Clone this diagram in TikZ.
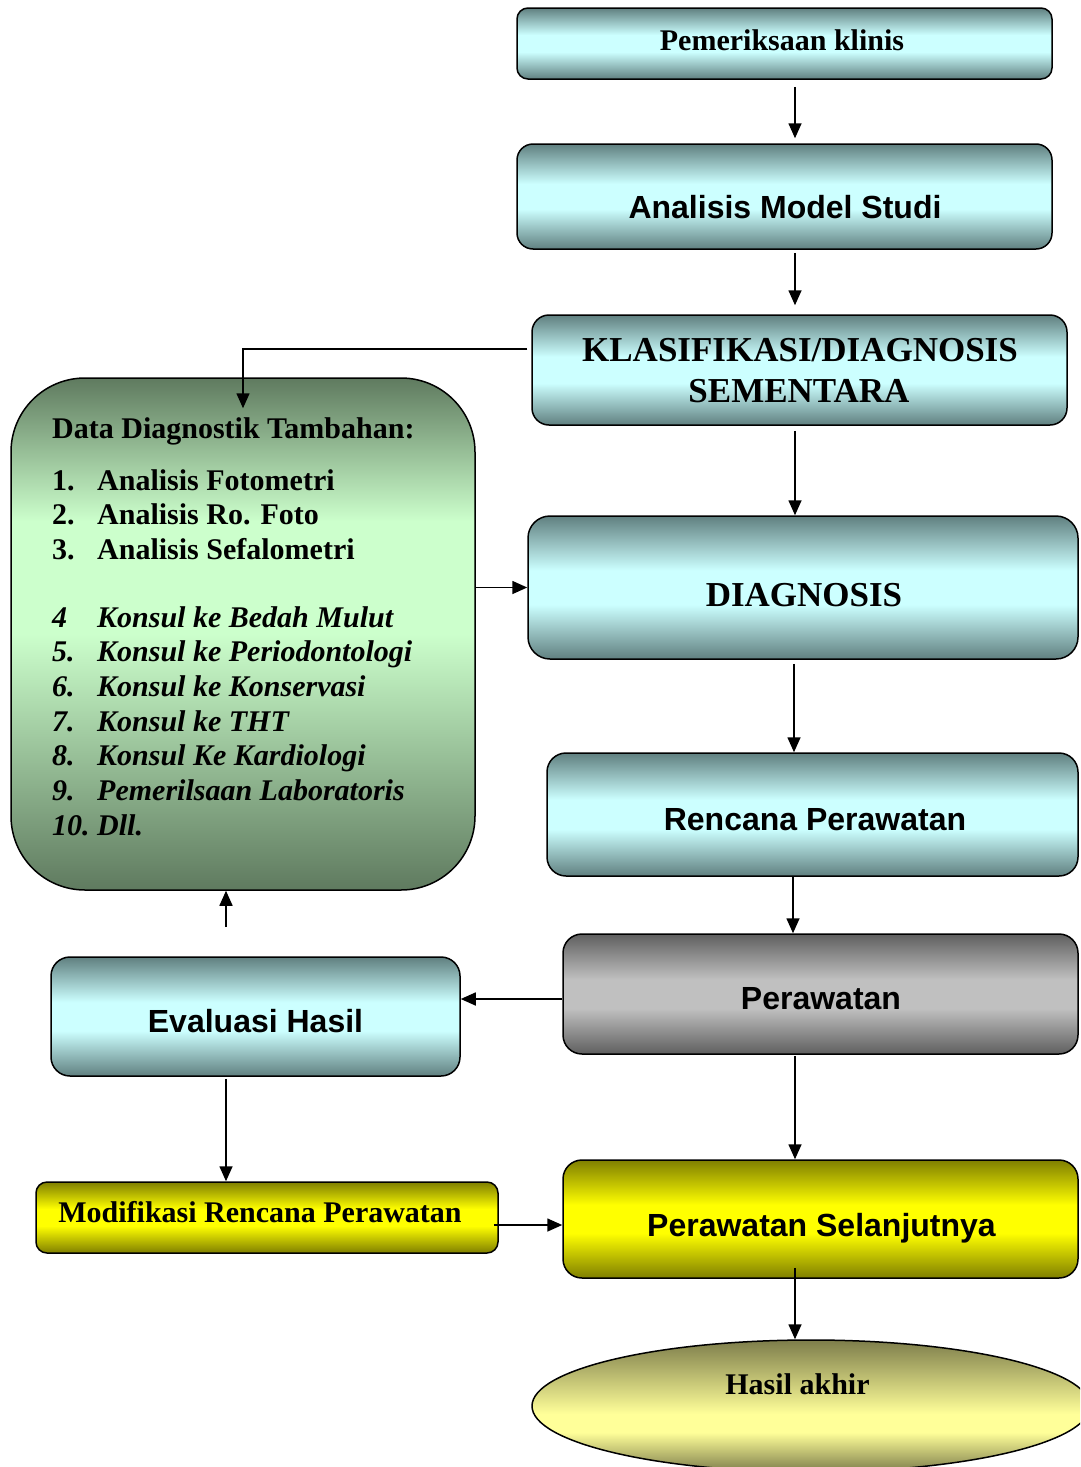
\documentclass[tikz,border=0pt]{standalone}
\usepackage{fontspec}
\setmainfont{Liberation Serif}
\setsansfont{Liberation Sans}
\usetikzlibrary{arrows.meta,calc,shapes.geometric}
\definecolor{cyD}{RGB}{96,128,128}
\definecolor{cyL}{RGB}{204,255,255}
\definecolor{gyD}{RGB}{95,95,95}
\definecolor{gyL}{RGB}{192,192,192}
\definecolor{ylD}{RGB}{127,127,0}
\definecolor{ylL}{RGB}{255,255,0}
\definecolor{grD}{RGB}{95,122,95}
\definecolor{grL}{RGB}{204,255,204}
\definecolor{elD}{RGB}{125,125,75}
\definecolor{elL}{RGB}{255,255,153}
\pgfdeclareverticalshading{cyband}{100bp}{color(0bp)=(cyD); color(25bp)=(cyD); color(44bp)=(cyL); color(56bp)=(cyL); color(75bp)=(cyD); color(100bp)=(cyD)}
\pgfdeclareverticalshading{gyband}{100bp}{color(0bp)=(gyD); color(25bp)=(gyD); color(44bp)=(gyL); color(56bp)=(gyL); color(75bp)=(gyD); color(100bp)=(gyD)}
\pgfdeclareverticalshading{ylband}{100bp}{color(0bp)=(ylD); color(25bp)=(ylD); color(44bp)=(ylL); color(56bp)=(ylL); color(75bp)=(ylD); color(100bp)=(ylD)}
\pgfdeclareverticalshading{grband}{100bp}{color(0bp)=(grD); color(25bp)=(grD); color(50bp)=(grL); color(61bp)=(grL); color(75bp)=(grD); color(100bp)=(grD)}
\pgfdeclareverticalshading{elband}{100bp}{color(0bp)=(elD); color(25bp)=(elD); color(40bp)=(elL); color(47bp)=(elL); color(75bp)=(elD); color(100bp)=(elD)}
\begin{document}
\begin{tikzpicture}[x=1pt,y=-1pt,
  box/.style={draw=black, line width=1.5pt, rectangle, inner sep=0pt},
  cybox/.style={box, shading=cyband},
  gybox/.style={box, shading=gyband},
  ylbox/.style={box, shading=ylband},
  grbox/.style={box, shading=grband},
  elbox/.style={draw=black, line width=1.5pt, ellipse, inner sep=0pt, shading=elband},
  arr/.style={-{Triangle[length=15pt,width=13pt]}, line width=1.6pt},
  serift/.style={anchor=base, inner sep=0pt, font=\fontsize{30}{34}\selectfont\bfseries},
  serifl/.style={anchor=base, inner sep=0pt, font=\fontsize{35}{40}\selectfont\bfseries},
  sanst/.style={anchor=base, inner sep=0pt, font=\sffamily\bfseries\fontsize{32}{36}\selectfont},
  listup/.style={anchor=base west, inner sep=0pt, font=\fontsize{30}{34}\selectfont\bfseries},
  listit/.style={anchor=base west, inner sep=0pt, font=\fontsize{30}{34}\selectfont\bfseries\itshape}
]
\useasboundingbox (0,0) rectangle (1080,1467);
\clip (0,0) rectangle (1080,1467);

% boxes
\node[cybox, rounded corners=11pt, minimum width=535pt, minimum height=71pt] (pk) at (784.5,43.5) {};
\node[cybox, rounded corners=16pt, minimum width=535pt, minimum height=105pt] (ams) at (784.5,196.5) {};
\node[cybox, rounded corners=17pt, minimum width=535pt, minimum height=110pt] (klas) at (799.5,370) {};
\node[cybox, rounded corners=22pt, minimum width=550pt, minimum height=143pt] (diag) at (803,587.5) {};
\node[cybox, rounded corners=19pt, minimum width=531pt, minimum height=123pt] (ren) at (812.5,814.5) {};
\node[gybox, rounded corners=19pt, minimum width=515pt, minimum height=120pt] (per) at (820.5,994) {};
\node[ylbox, rounded corners=19pt, minimum width=515pt, minimum height=118pt] (ps) at (820.5,1219) {};
\node[cybox, rounded corners=19pt, minimum width=409pt, minimum height=119pt] (eval) at (255.5,1016.5) {};
\node[ylbox, rounded corners=11pt, minimum width=462pt, minimum height=71pt] (mod) at (267,1217.5) {};
\node[grbox, rounded corners=74pt, minimum width=464pt, minimum height=512pt] (green) at (243,634) {};
\node[elbox, minimum width=558pt, minimum height=132pt] (ell) at (811,1406) {};

% texts
\node[serift] (tpk) at (782,50) {Pemeriksaan klinis};
\node[sanst] (tams) at (785,218.5) {Analisis Model Studi};
\node[serifl] (tklasa) at (800,361.5) {KLASIFIKASI/DIAGNOSIS};
\node[serifl] (tklasb) at (799,402.5) {SEMENTARA};
\node[serifl] (tdiag) at (804,606) {DIAGNOSIS};
\node[sanst] (tren) at (815,830) {Rencana Perawatan};
\node[sanst] (tper) at (821,1009) {Perawatan};
\node[sanst] (tps) at (821.5,1236) {Perawatan Selanjutnya};
\node[sanst] (teval) at (255.5,1032) {Evaluasi Hasil};
\node[serift] (tmod) at (260,1222) {Modifikasi Rencana Perawatan};
\node[serift] (thasil) at (797.5,1394) {Hasil akhir};

\node[listup] (gh) at (52,438) {Data Diagnostik Tambahan:};
\node[listup] (g1) at (52,490) {\makebox[45pt][l]{1.}Analisis Fotometri};
\node[listup] (g2) at (52,524.7) {\makebox[45pt][l]{2.}Analisis Ro. Foto};
\node[listup] (g3) at (52,559.4) {\makebox[45pt][l]{3.}Analisis Sefalometri};
\node[listit] (g4) at (52,627) {\makebox[45pt][l]{4}Konsul ke Bedah Mulut};
\node[listit] (g5) at (52,661.7) {\makebox[45pt][l]{5.}Konsul ke Periodontologi};
\node[listit] (g6) at (52,696.4) {\makebox[45pt][l]{6.}Konsul ke Konservasi};
\node[listit] (g7) at (52,731.1) {\makebox[45pt][l]{7.}Konsul ke THT};
\node[listit] (g8) at (52,765.8) {\makebox[45pt][l]{8.}Konsul Ke Kardiologi};
\node[listit] (g9) at (52,800.5) {\makebox[45pt][l]{9.}Pemerilsaan Laboratoris};
\node[listit] (g10) at (52,835.2) {\makebox[45pt][l]{10.}Dll.};

% connectors
\coordinate (ca) at (795,0);
\coordinate (cb) at (794,0);
\coordinate (cc) at (793,0);
\coordinate (cl) at (226,0);
\coordinate (fb) at (226,927);

\draw[arr] ($(pk.south -| ca)+(0,7)$) -- ($(ams.north -| ca)+(0,-5)$);
\draw[arr] ($(ams.south -| ca)+(0,3)$) -- ($(klas.north -| ca)+(0,-9)$);
\draw[arr] ($(klas.south -| ca)+(0,5)$) -- (diag.north -| ca);
\draw[arr] ($(klas.west)+(-4,-21)$) -| ($(green.north)+(0,31)$);
\draw[arr] (diag.west -| green.east) -- (diag.west);
\draw[arr] ($(diag.south -| cb)+(0,4)$) -- (ren.north -| cb);
\draw[arr] (ren.south -| cc) -- (per.north -| cc);
\draw[arr] ($(per.west)+(0,5)$) -- ($(per.west -| eval.east)+(0,5)$);
\draw[arr] (fb) -- (green.south -| fb);
\draw[arr] ($(eval.south -| cl)+(0,2)$) -- (mod.north -| cl);
\draw[arr] ($(per.south -| ca)+(0,1)$) -- (ps.north -| ca);
\draw[arr] ($(mod.east)+(-5,7.5)$) -- ($(ps.west)+(0,6)$);
\draw[arr] ($(ps.south -| ca)+(0,-11)$) -- (ell.north -| ca);
\end{tikzpicture}
\end{document}
